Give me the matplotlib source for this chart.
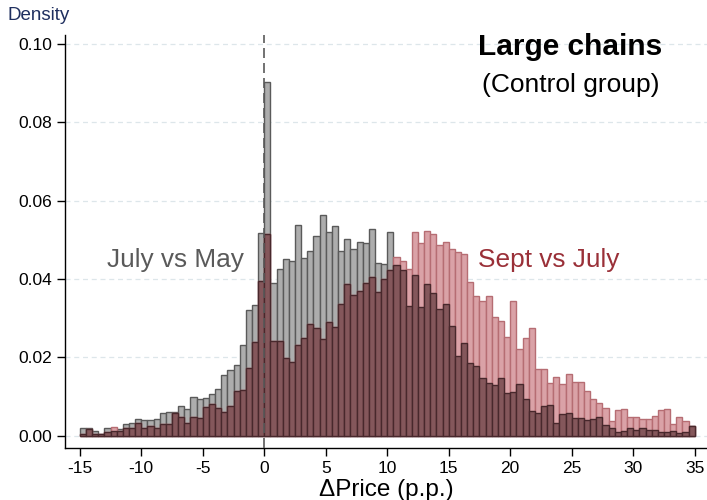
import numpy as np
import matplotlib
matplotlib.use("Agg")
import matplotlib.pyplot as plt

plt.rcParams['font.family'] = ['Liberation Sans', 'DejaVu Sans']
plt.rcParams['axes.unicode_minus'] = False

# bin left edges: -15 .. 34.5, width 0.5
bin_start = -15.0
bin_width = 0.5

july_vs_may = [
    0.0020, 0.0020, 0.0013, 0.0006, 0.0020, 0.0012, 0.0017, 0.0031, 0.0032, 0.0043,
    0.0041, 0.0040, 0.0043, 0.0058, 0.0060, 0.0062, 0.0075, 0.0068, 0.0099, 0.0094,
    0.0096, 0.0107, 0.0119, 0.0156, 0.0167, 0.0181, 0.0232, 0.0321, 0.0334, 0.0517,
    0.0902, 0.0389, 0.0425, 0.0452, 0.0447, 0.0537, 0.0453, 0.0472, 0.0510, 0.0564,
    0.0519, 0.0535, 0.0472, 0.0502, 0.0476, 0.0496, 0.0491, 0.0527, 0.0440, 0.0438,
    0.0521, 0.0436, 0.0423, 0.0332, 0.0410, 0.0330, 0.0388, 0.0364, 0.0323, 0.0336,
    0.0281, 0.0204, 0.0236, 0.0185, 0.0177, 0.0147, 0.0134, 0.0130, 0.0147, 0.0109,
    0.0113, 0.0133, 0.0094, 0.0064, 0.0058, 0.0075, 0.0079, 0.0032, 0.0055, 0.0058,
    0.0045, 0.0045, 0.0041, 0.0043, 0.0048, 0.0028, 0.0020, 0.0011, 0.0013, 0.0020,
    0.0015, 0.0020, 0.0014, 0.0014, 0.0010, 0.0009, 0.0013, 0.0007, 0.0009, 0.0024,
]

sept_vs_july = [
    0.0005, 0.0018, 0.0006, 0.0005, 0.0009, 0.0022, 0.0013, 0.0020, 0.0020, 0.0032,
    0.0020, 0.0026, 0.0020, 0.0030, 0.0029, 0.0058, 0.0048, 0.0032, 0.0048, 0.0045,
    0.0073, 0.0081, 0.0071, 0.0060, 0.0077, 0.0115, 0.0117, 0.0173, 0.0239, 0.0395,
    0.0515, 0.0242, 0.0241, 0.0198, 0.0188, 0.0231, 0.0250, 0.0285, 0.0275, 0.0247,
    0.0290, 0.0277, 0.0336, 0.0388, 0.0359, 0.0369, 0.0389, 0.0405, 0.0367, 0.0400,
    0.0423, 0.0456, 0.0445, 0.0425, 0.0521, 0.0491, 0.0524, 0.0515, 0.0488, 0.0496,
    0.0476, 0.0470, 0.0463, 0.0393, 0.0358, 0.0345, 0.0358, 0.0304, 0.0292, 0.0253,
    0.0343, 0.0221, 0.0249, 0.0274, 0.0170, 0.0170, 0.0134, 0.0150, 0.0132, 0.0158,
    0.0137, 0.0137, 0.0115, 0.0094, 0.0083, 0.0071, 0.0039, 0.0066, 0.0069, 0.0048,
    0.0048, 0.0044, 0.0043, 0.0051, 0.0066, 0.0068, 0.0031, 0.0048, 0.0038, 0.0024,
]

x_ticks = [-15, -10, -5, 0, 5, 10, 15, 20, 25, 30, 35]
y_ticks = [0.00, 0.02, 0.04, 0.06, 0.08, 0.10]

g = np.array(july_vs_may)
r = np.array(sept_vs_july)
edges = bin_start + bin_width * np.arange(len(g))
both = np.minimum(g, r)

fig = plt.figure(figsize=(7.07, 5.0), dpi=100)
ax = fig.add_axes([0.092, 0.104, 0.908, 0.826])

for yt in y_ticks:
    ax.axhline(yt, color='#dde6ea', lw=0.9, ls=(0, (4, 3)), zorder=0)

ax.bar(edges, g, width=bin_width, align='edge', color='#adadad',
       edgecolor='#5a5a5a', linewidth=1.0, zorder=2)
ax.bar(edges, r, width=bin_width, align='edge', color='#daa2a7',
       edgecolor='#b66d73', linewidth=1.0, zorder=2)
ax.bar(edges, both, width=bin_width, align='edge', color='#84575b',
       edgecolor='#48282c', linewidth=1.0, zorder=3)

ax.axvline(0, color='#5a5a5a', lw=1.2, ls=(0, (6, 3)), zorder=4)

ax.set_xlim(-16.2, 36.0)
ax.set_ylim(-0.0031, 0.1023)
ax.set_xticks(x_ticks)
ax.set_xticklabels([str(t) for t in x_ticks])
ax.set_yticks(y_ticks)
ax.set_yticklabels([f"{t:.2f}" for t in y_ticks])
ax.tick_params(labelsize=12.5, length=6, width=1, colors='black')
for s in ['top', 'right']:
    ax.spines[s].set_visible(False)
ax.spines['left'].set_linewidth(1)
ax.spines['bottom'].set_linewidth(1)

ax.set_xlabel('\u0394Price (p.p.)', fontsize=17.5, labelpad=2)
fig.text(0.011, 0.968, 'Density', fontsize=13.5, color='#1f2f5f', ha='left', va='center')

ax.text(24.9, 0.0992, 'Large chains', fontsize=21.5, fontweight='bold', ha='center', va='center')
ax.text(24.9, 0.0895, '(Control group)', fontsize=19, ha='center', va='center')
ax.text(-7.2, 0.0449, 'July vs May', fontsize=18.9, color='#5a5a5a', ha='center', va='center')
ax.text(23.1, 0.0449, 'Sept vs July', fontsize=18.9, color='#9a3038', ha='center', va='center')

fig.savefig('out.png', dpi=100)
